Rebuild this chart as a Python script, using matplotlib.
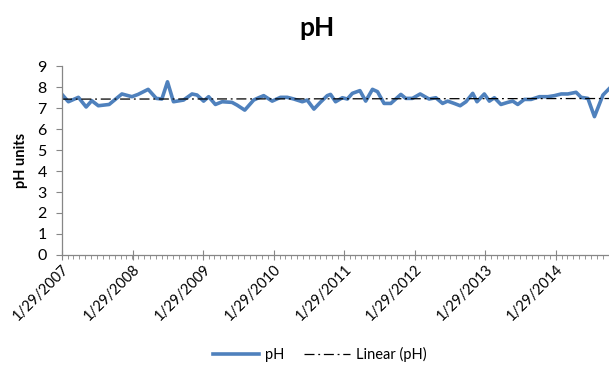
import numpy as np
import pandas as pd
import matplotlib
matplotlib.use("Agg")
import matplotlib.pyplot as plt
import matplotlib.dates as mdates

plt.rcParams['font.family'] = ['Lato', 'DejaVu Sans']

# sample dates and measured pH
dates = [
    "2007-01-29", "2007-03-03", "2007-04-24", "2007-06-03", "2007-07-02", "2007-08-05",
    "2007-09-30", "2007-10-21", "2007-12-05", "2008-01-26", "2008-02-27", "2008-04-19",
    "2008-05-31", "2008-06-29", "2008-07-28", "2008-08-28", "2008-10-19", "2008-12-02",
    "2008-12-28", "2009-01-31", "2009-02-26", "2009-04-02", "2009-05-07", "2009-06-27",
    "2009-07-23", "2009-09-01", "2009-10-17", "2009-11-12", "2009-12-08", "2010-01-21",
    "2010-03-05", "2010-04-09", "2010-05-13", "2010-06-26", "2010-07-21", "2010-08-25",
    "2010-09-28", "2010-11-02", "2010-11-19", "2010-12-15", "2011-01-19", "2011-02-14",
    "2011-03-12", "2011-04-20", "2011-05-20", "2011-06-24", "2011-07-20", "2011-08-23",
    "2011-09-27", "2011-11-18", "2011-12-13", "2012-01-17", "2012-02-26", "2012-04-12",
    "2012-05-17", "2012-06-21", "2012-07-17", "2012-08-20", "2012-09-20", "2012-10-20",
    "2012-11-24", "2012-12-16", "2013-01-23", "2013-02-18", "2013-03-16", "2013-04-19",
    "2013-05-24", "2013-06-19", "2013-07-15", "2013-08-18", "2013-09-22", "2013-11-04",
    "2013-12-18", "2014-01-21", "2014-02-25", "2014-03-31", "2014-05-13", "2014-06-08",
    "2014-07-13", "2014-08-16", "2014-09-29", "2014-11-02",
]
ph = [
    7.65, 7.30, 7.51, 7.05, 7.35, 7.11,
    7.17, 7.33, 7.67, 7.54, 7.65, 7.89,
    7.46, 7.43, 8.25, 7.30, 7.38, 7.67,
    7.62, 7.33, 7.54, 7.17, 7.30, 7.27,
    7.14, 6.90, 7.38, 7.49, 7.59, 7.33,
    7.51, 7.51, 7.43, 7.30, 7.38, 6.95,
    7.28, 7.59, 7.65, 7.30, 7.49, 7.43,
    7.70, 7.83, 7.33, 7.89, 7.78, 7.22,
    7.22, 7.65, 7.46, 7.46, 7.67, 7.43,
    7.49, 7.22, 7.33, 7.22, 7.11, 7.30,
    7.70, 7.30, 7.67, 7.33, 7.49, 7.17,
    7.27, 7.33, 7.17, 7.41, 7.41, 7.54,
    7.54, 7.59, 7.67, 7.67, 7.75, 7.51,
    7.46, 6.59, 7.62, 7.94,
]
y_ticks = [0, 1, 2, 3, 4, 5, 6, 7, 8, 9]

t = pd.to_datetime(dates)
x = mdates.date2num(t)

x_start = mdates.date2num(pd.Timestamp("2007-01-29"))
x_end = mdates.date2num(pd.Timestamp("2014-11-05"))

# linear trend over the date axis
coef = np.polyfit(x, ph, 1)
trend_x = np.array([x_start, x_end])
trend_y = np.polyval(coef, trend_x)

fig = plt.figure(figsize=(6.09, 3.69), dpi=100)
ax = fig.add_axes([0.1018, 0.309, 0.9, 0.512])

ax.plot(x, ph, color="#4F81BD", lw=2.6, solid_joinstyle="round", label="pH")
ax.plot(trend_x, trend_y, color="black", lw=0.9, linestyle=(0, (8, 3, 1.5, 3)),
        label="Linear (pH)")

ax.set_xlim(x_start, x_end)
ax.set_ylim(0, 9)
ax.set_yticks(y_ticks)

major = pd.date_range("2007-01-29", "2014-01-29", freq=pd.DateOffset(years=1))
minor = pd.date_range("2007-01-29", "2014-11-05", freq=pd.DateOffset(months=1))
ax.set_xticks(mdates.date2num(major))
ax.set_xticks(mdates.date2num(minor), minor=True)
ax.set_xticklabels([f"{d.month}/{d.day}/{d.year}" for d in major],
                   rotation=45, ha="right", va="top", rotation_mode="anchor")

for side in ("top", "right"):
    ax.spines[side].set_visible(False)
for side in ("left", "bottom"):
    ax.spines[side].set_color("#868686")
    ax.spines[side].set_linewidth(0.9)

ax.tick_params(axis="y", direction="out", length=4, color="#868686", labelsize=11.5, pad=7)
ax.tick_params(axis="x", which="major", direction="inout", length=7, color="#868686",
               labelsize=10.5, pad=2)
ax.tick_params(axis="x", which="minor", direction="out", length=3, color="#868686")

ax.set_ylabel("pH units", fontsize=10.5, fontweight="bold", labelpad=7)
fig.text(0.52, 0.925, "pH", ha="center", va="center", fontsize=19, fontweight="bold")

fig.legend(loc="center", bbox_to_anchor=(0.525, 0.04), ncol=2, frameon=False,
           fontsize=10.5, handlelength=3.2, columnspacing=1.3, handletextpad=0.4)

fig.savefig("out.png", dpi=100)
